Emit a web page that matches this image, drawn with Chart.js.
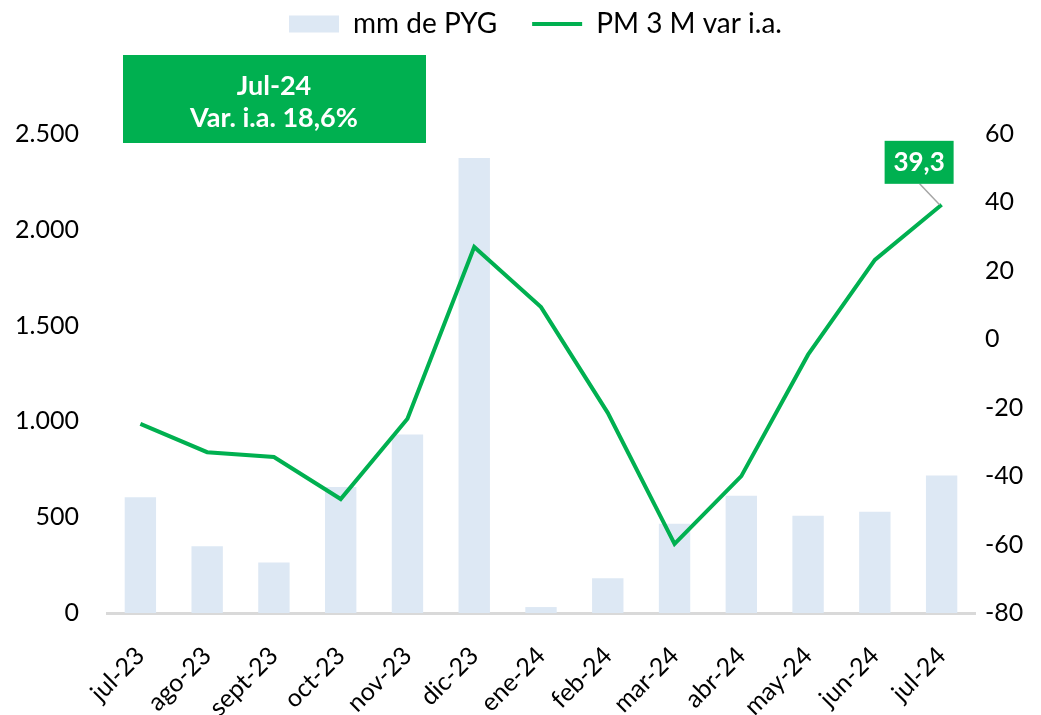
<!DOCTYPE html>
<html>
<head>
<meta charset="utf-8">
<script src="https://cdn.jsdelivr.net/npm/chart.js@4.4.1/dist/chart.umd.min.js"></script>
<style>
  html, body { margin: 0; padding: 0; background: #fff; }
  #wrap { width: 1041px; height: 715px; }
</style>
</head>
<body>
<div id="wrap"><canvas id="chart1"></canvas></div>
<script>
const meses = ['jul-23', 'ago-23', 'sept-23', 'oct-23', 'nov-23', 'dic-23', 'ene-24',
  'feb-24', 'mar-24', 'abr-24', 'may-24', 'jun-24', 'jul-24'];
const montos = [604, 348, 263, 658, 931, 2375, 31, 182, 466, 612, 508, 529, 717];
const varIa = [-24.7, -33.0, -34.4, -46.7, -23.2, 27.0, 9.4, -21.5, -59.8, -40.0, -4.5, 23.2, 39.3];
const nota = ['Jul-24', 'Var. i.a. 18,6%'];

const verde = '#00b050';
const FONT = 'Lato, "Open Sans", sans-serif';

Chart.defaults.font.family = FONT;
Chart.defaults.color = '#111';

function miles(v) {
  return String(v).replace(/\B(?=(\d{3})+(?!\d))/g, '.');
}

// leyenda: dejar espacio entre la leyenda y el gráfico, y correrla un poco a la derecha
const espacio = {
  id: 'espacio',
  beforeLayout(chart) {
    const lg = chart.legend;
    if (lg && !lg._parche) {
      const fit = lg.fit;
      const draw = lg.draw;
      lg.fit = function () { fit.call(this); this.height = 159; };
      lg.draw = function (area) {
        this.ctx.save();
        this.ctx.translate(15, 0);
        draw.call(this, area);
        this.ctx.restore();
      };
      lg._parche = true;
    }
  }
};

// recuadro verde y etiqueta del último dato
const notas = {
  id: 'notas',
  afterDraw(chart) {
    const { ctx, chartArea } = chart;
    ctx.save();
    const bx = chartArea.left + 16, by = chartArea.top - 79;
    ctx.fillStyle = verde;
    ctx.fillRect(bx, by, 303, 88);
    ctx.fillStyle = '#fff';
    ctx.font = 'bold 27px ' + FONT;
    ctx.textAlign = 'center';
    ctx.textBaseline = 'middle';
    ctx.fillText(nota[0], bx + 151, by + 31);
    ctx.fillText(nota[1], bx + 151, by + 63);

    const meta = chart.getDatasetMeta(1);
    const p = meta.data[meta.data.length - 1];
    ctx.strokeStyle = '#a6a6a6';
    ctx.lineWidth = 1.5;
    ctx.beginPath();
    ctx.moveTo(p.x - 22, p.y - 21);
    ctx.lineTo(p.x - 2, p.y);
    ctx.stroke();
    ctx.fillStyle = verde;
    ctx.fillRect(p.x - 57, p.y - 64, 69, 43);
    ctx.fillStyle = '#fff';
    ctx.font = 'bold 26px ' + FONT;
    ctx.fillText(String(varIa[varIa.length - 1]).replace('.', ','), p.x - 22.5, p.y - 42);
    ctx.restore();
  }
};

const ctx = document.getElementById('chart1');

new Chart(ctx, {
  type: 'bar',
  data: {
    labels: meses,
    datasets: [{
      label: 'mm de PYG',
      data: montos,
      backgroundColor: '#dde8f4',
      borderWidth: 0,
      barPercentage: 0.47,
      categoryPercentage: 1,
      yAxisID: 'y',
      order: 2
    }, {
      type: 'line',
      label: 'PM 3 M var i.a.',
      data: varIa,
      borderColor: verde,
      backgroundColor: verde,
      borderWidth: 4,
      pointRadius: 0,
      tension: 0,
      yAxisID: 'y1',
      order: 1
    }]
  },
  options: {
    responsive: true,
    maintainAspectRatio: false,
    animation: false,
    layout: { padding: { top: -25, left: 0, right: 0, bottom: 0 } },
    plugins: {
      tooltip: { enabled: false },
      legend: {
        position: 'top',
        labels: {
          font: { size: 28 },
          color: '#000',
          padding: 35,
          usePointStyle: true,
          pointStyleWidth: 50,
          boxHeight: 17,
          generateLabels(chart) {
            const items = Chart.defaults.plugins.legend.labels.generateLabels(chart);
            items.sort((a, b) => a.datasetIndex - b.datasetIndex);
            items[0].pointStyle = 'rect';
            items[0].lineWidth = 0;
            items[1].pointStyle = 'line';
            items[1].lineWidth = 4;
            items[1].strokeStyle = verde;
            return items;
          }
        }
      }
    },
    scales: {
      x: {
        grid: { display: false, drawTicks: false },
        border: { display: true, color: '#d9d9d9', width: 3 },
        ticks: { font: { size: 25 }, color: '#000', minRotation: 45, maxRotation: 45, padding: 28 },
        afterFit(s) { s.height = 102; }
      },
      y: {
        position: 'left',
        min: 0, max: 2500,
        grid: { display: false, drawTicks: false },
        border: { display: false },
        ticks: { stepSize: 500, font: { size: 25 }, color: '#000', padding: 28, callback: v => miles(v) },
        afterFit(s) { s.width = 107; }
      },
      y1: {
        position: 'right',
        min: -80, max: 60,
        grid: { display: false, drawTicks: false },
        border: { display: false },
        ticks: { stepSize: 20, font: { size: 25 }, color: '#000', padding: 10 },
        afterFit(s) { s.width = 66; }
      }
    }
  },
  plugins: [espacio, notas]
});
</script>
</body>
</html>
